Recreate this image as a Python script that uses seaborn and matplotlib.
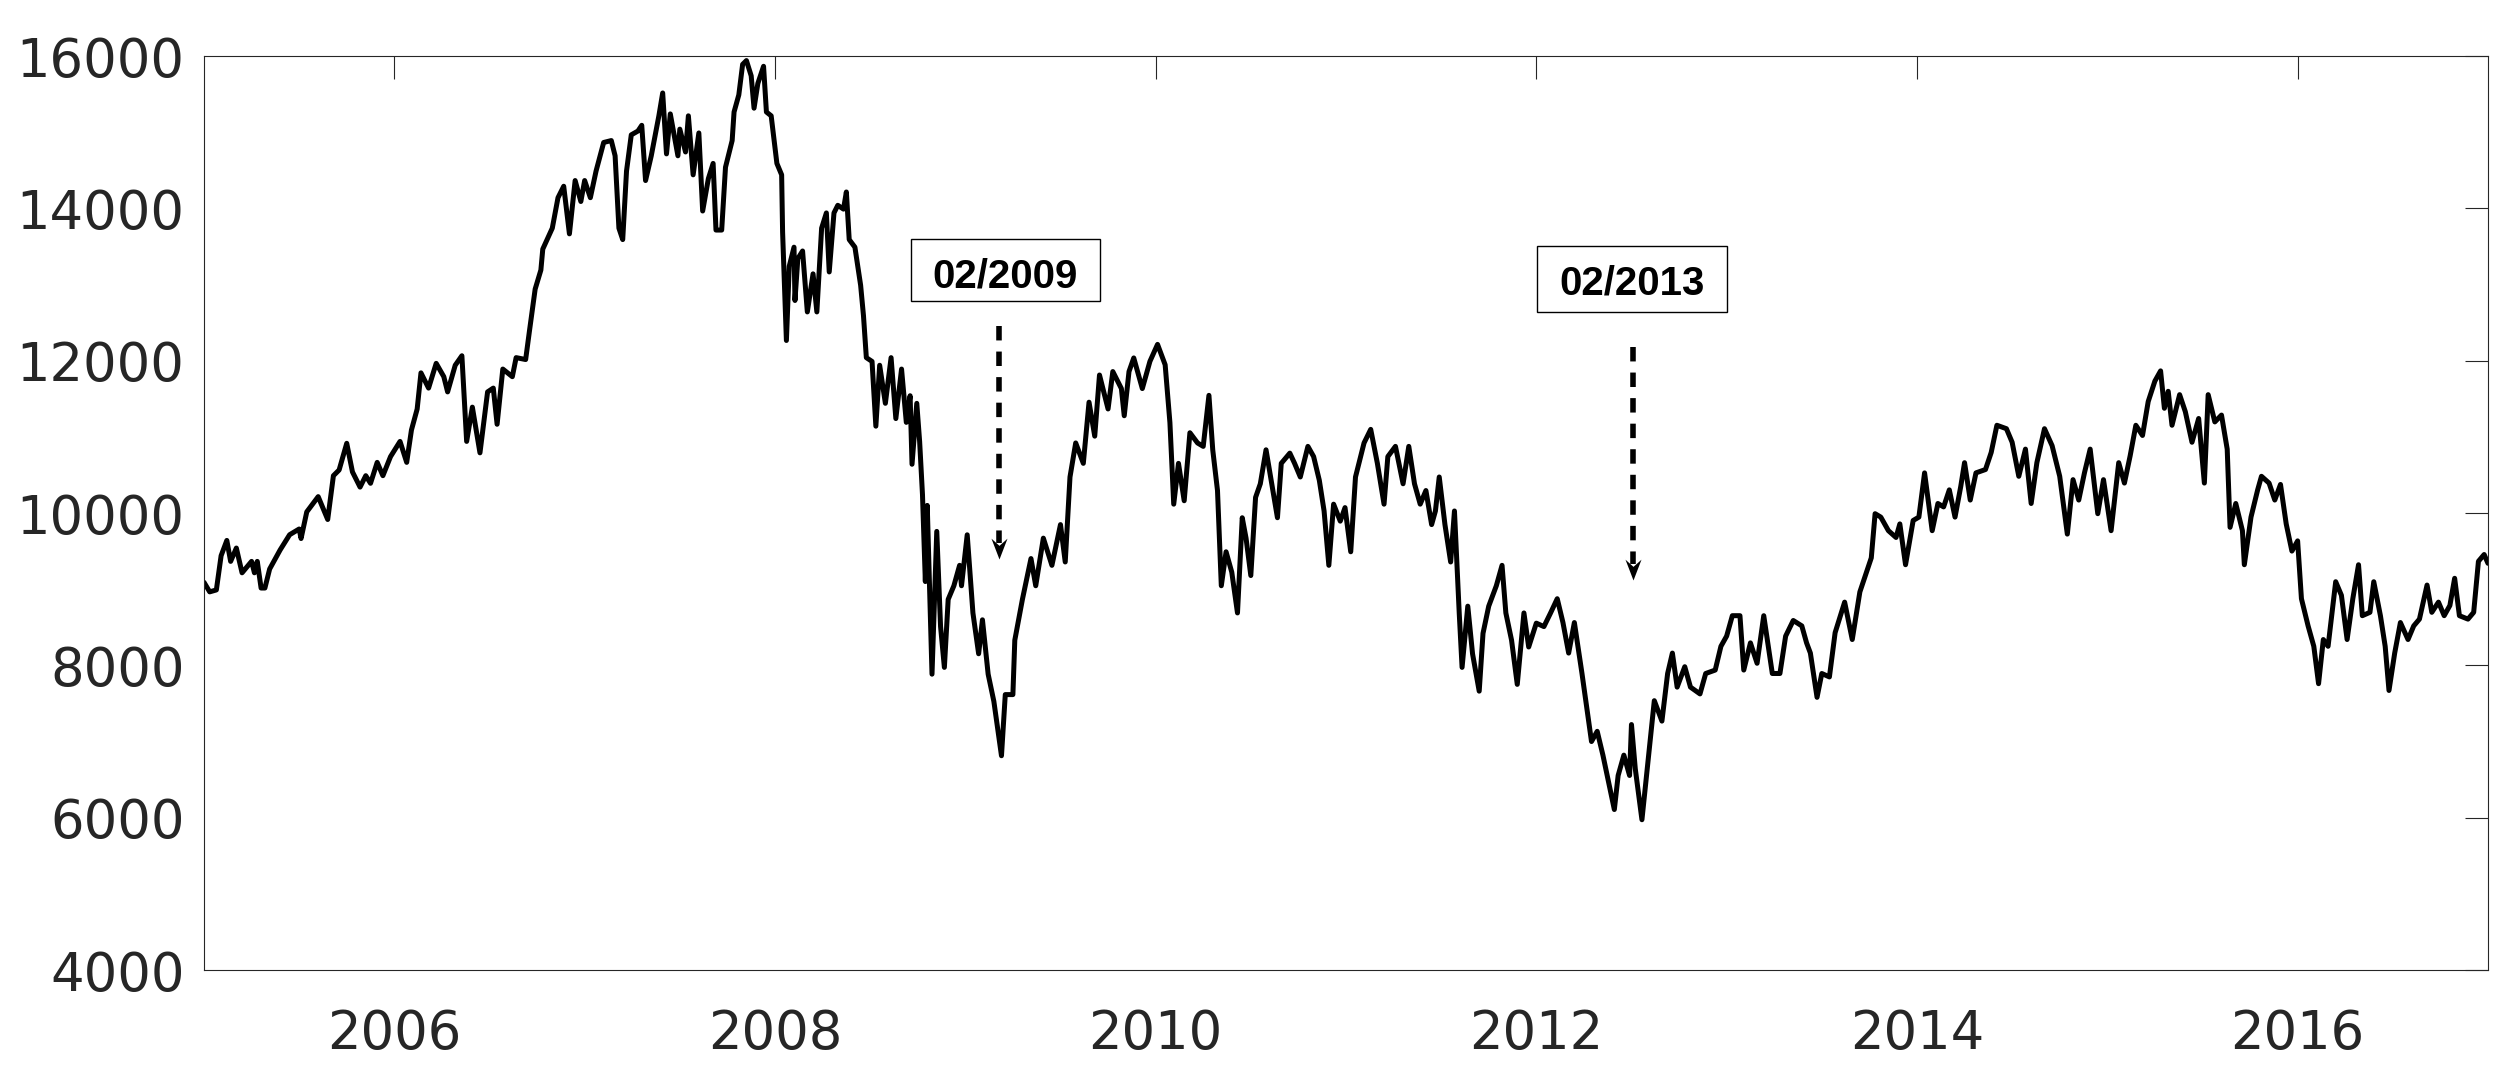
import numpy as np
import pandas as pd
import matplotlib
matplotlib.use("Agg")
import matplotlib.pyplot as plt
from matplotlib.path import Path
from matplotlib.patches import Rectangle
import seaborn as sns

# ---------------- data ----------------
years = [
    2005.00, 2005.03, 2005.065, 2005.09, 2005.12, 2005.14, 2005.17, 2005.20, 2005.25, 2005.265,
    2005.28, 2005.30, 2005.32, 2005.345, 2005.40, 2005.45, 2005.50, 2005.51, 2005.54, 2005.60,
    2005.65, 2005.68, 2005.71, 2005.75, 2005.78, 2005.82, 2005.85, 2005.875, 2005.91, 2005.94,
    2005.98, 2006.03, 2006.065, 2006.09, 2006.12, 2006.14, 2006.18, 2006.22, 2006.26, 2006.28,
    2006.32, 2006.355, 2006.38, 2006.41, 2006.45, 2006.49, 2006.52, 2006.54, 2006.57, 2006.62,
    2006.64, 2006.69, 2006.71, 2006.74, 2006.77, 2006.78, 2006.83, 2006.86, 2006.89, 2006.92,
    2006.95, 2006.98,
    2007.00, 2007.03, 2007.06, 2007.10, 2007.14, 2007.16, 2007.18, 2007.20, 2007.22, 2007.245,
    2007.28, 2007.30, 2007.32, 2007.35, 2007.39, 2007.41, 2007.43, 2007.45, 2007.49, 2007.50,
    2007.53, 2007.545, 2007.57, 2007.60, 2007.62, 2007.65, 2007.675, 2007.69, 2007.72, 2007.74,
    2007.775, 2007.785, 2007.81, 2007.83, 2007.85, 2007.875, 2007.89, 2007.91, 2007.94, 2007.955,
    2007.98, 2008.01, 2008.035, 2008.04, 2008.06, 2008.075, 2008.10, 2008.105, 2008.12, 2008.145,
    2008.17, 2008.20, 2008.22, 2008.245, 2008.27, 2008.285, 2008.31, 2008.33, 2008.36, 2008.375,
    2008.39, 2008.42, 2008.45, 2008.465, 2008.48, 2008.51, 2008.53, 2008.55, 2008.58, 2008.61,
    2008.635, 2008.665, 2008.69, 2008.71, 2008.72, 2008.745, 2008.76, 2008.775, 2008.79, 2008.80,
    2008.825, 2008.85, 2008.87, 2008.89, 2008.91, 2008.94, 2008.97, 2008.98, 2009.01, 2009.04,
    2009.07, 2009.09, 2009.12, 2009.15, 2009.19, 2009.21, 2009.25, 2009.26, 2009.30, 2009.345,
    2009.37, 2009.41, 2009.455, 2009.50, 2009.525, 2009.55, 2009.58, 2009.62, 2009.65, 2009.68,
    2009.705, 2009.75, 2009.775, 2009.82, 2009.835, 2009.86, 2009.885, 2009.93, 2009.97, 2010.01,
    2010.05, 2010.075, 2010.095, 2010.12, 2010.15, 2010.18, 2010.22, 2010.25, 2010.28, 2010.30,
    2010.325, 2010.345, 2010.37, 2010.40, 2010.43, 2010.455, 2010.475, 2010.50, 2010.525, 2010.55,
    2010.58, 2010.61, 2010.64, 2010.66, 2010.705, 2010.73, 2010.76, 2010.80, 2010.83, 2010.86,
    2010.885, 2010.91, 2010.935, 2010.97, 2010.995, 2011.025, 2011.05, 2011.095, 2011.13, 2011.165,
    2011.20, 2011.22, 2011.26, 2011.30, 2011.33, 2011.36, 2011.39, 2011.42, 2011.45, 2011.47,
    2011.49, 2011.52, 2011.55, 2011.57, 2011.595, 2011.61, 2011.64, 2011.665, 2011.70, 2011.72,
    2011.75, 2011.79, 2011.82, 2011.84, 2011.87, 2011.90, 2011.935, 2011.96, 2012.00, 2012.04,
    2012.075,
    2012.11, 2012.14, 2012.17, 2012.20, 2012.24, 2012.265, 2012.29, 2012.32, 2012.35, 2012.38,
    2012.41, 2012.43, 2012.46, 2012.49, 2012.50, 2012.52, 2012.555, 2012.59, 2012.62, 2012.66,
    2012.69, 2012.715, 2012.74, 2012.78, 2012.81, 2012.86, 2012.89, 2012.94, 2012.97, 2013.00,
    2013.03, 2013.07, 2013.09, 2013.125, 2013.16, 2013.195, 2013.24, 2013.28, 2013.31, 2013.35,
    2013.395, 2013.42, 2013.44, 2013.475, 2013.50, 2013.54, 2013.57, 2013.62, 2013.66, 2013.70,
    2013.73, 2013.76, 2013.78, 2013.81, 2013.85, 2013.89, 2013.91, 2013.94, 2013.98, 2014.01,
    2014.04, 2014.08, 2014.11, 2014.14, 2014.17, 2014.20, 2014.23, 2014.25, 2014.28, 2014.31,
    2014.36, 2014.39, 2014.42, 2014.47, 2014.50, 2014.535, 2014.57, 2014.60, 2014.63, 2014.67,
    2014.71, 2014.75, 2014.79, 2014.82, 2014.85, 2014.88, 2014.91, 2014.95, 2014.98, 2015.02,
    2015.06, 2015.09, 2015.12, 2015.15, 2015.185, 2015.215, 2015.25, 2015.28, 2015.30, 2015.32,
    2015.34, 2015.38, 2015.41, 2015.445, 2015.48, 2015.51, 2015.53, 2015.565, 2015.60, 2015.63,
    2015.645, 2015.675, 2015.71, 2015.72, 2015.755, 2015.79, 2015.81, 2015.85, 2015.88, 2015.91,
    2015.94, 2015.97, 2016.00, 2016.02, 2016.055, 2016.085, 2016.11, 2016.135, 2016.16, 2016.20,
    2016.23, 2016.26, 2016.29, 2016.32, 2016.34, 2016.38, 2016.40, 2016.435, 2016.46, 2016.48,
    2016.51, 2016.54, 2016.58, 2016.61, 2016.64, 2016.68, 2016.705, 2016.74, 2016.77, 2016.80,
    2016.825, 2016.85, 2016.895, 2016.925, 2016.95, 2016.98, 2017.00,
]
values = [
    9090, 8965, 8990, 9440, 9640, 9365, 9540, 9215, 9365, 9215,
    9365, 9015, 9015, 9265, 9515, 9715, 9790, 9665, 10015, 10215,
    9915, 10490, 10565, 10915, 10540, 10340, 10490, 10390, 10665, 10490,
    10740, 10940, 10665, 11090, 11365, 11840, 11640, 11965, 11790, 11590,
    11940, 12065, 10940, 11390, 10790, 11590, 11640, 11165, 11890, 11790,
    12040, 12015, 12390, 12940, 13190, 13465, 13740, 14140, 14290, 13665,
    14365, 14090,
    14365, 14140, 14490, 14865, 14890, 14690, 13740, 13590, 14490, 14965,
    15015, 15090, 14365, 14690, 15215, 15515, 14715, 15240, 14690, 15040,
    14740, 15215, 14440, 14990, 13965, 14390, 14590, 13715, 13715, 14540,
    14890, 15265, 15490, 15890, 15940, 15740, 15315, 15640, 15865, 15265,
    15215, 14590, 14440, 13690, 12265, 13240, 13490, 12790, 13340, 13440,
    12640, 13140, 12640, 13740, 13940, 13165, 13940, 14040, 13990, 14215,
    13590, 13490, 12990, 12590, 12040, 11990, 11140, 11940, 11440, 12040,
    11240, 11890, 11190, 11540, 10640, 11440, 10940, 10240, 9100, 10100,
    7884, 9759, 8509, 7973, 8866, 9045, 9313, 9045, 9714, 8688,
    8152, 8598, 7884, 7527, 6813, 7616, 7616, 8330, 8866, 9402,
    9045, 9670, 9313, 9848, 9357, 10473, 10920, 10652, 11455, 11009,
    11812, 11366, 11857, 11634, 11277, 11857, 12036, 11634, 11991, 12214,
    11946, 11187, 10116, 10652, 10161, 11054, 10920, 10875, 11545, 10830,
    10295, 9045, 9491, 9223, 8688, 9938, 9670, 9179, 10205, 10384,
    10830, 10384, 9938, 10652, 10786, 10652, 10473, 10875, 10741, 10429,
    10027, 9313, 10116, 9893, 10071, 9491, 10473, 10920, 11098, 10652,
    10116, 10741, 10875, 10384, 10875, 10384, 10116, 10295, 9848, 10027,
    10473, 9848, 9357, 10027, 8688, 7973, 8777, 8152, 7661, 8420,
    8777, 9045, 9313, 8688, 8330, 7750, 8688, 8241, 8554, 8509,
    8688,
    8875, 8562, 8161, 8562, 7893, 7446, 7000, 7134, 6821, 6464,
    6107, 6554, 6821, 6554, 7223, 6643, 5973, 6821, 7536, 7268,
    7893, 8161, 7714, 7982, 7714, 7625, 7893, 7938, 8250, 8384,
    8652, 8652, 7938, 8295, 8027, 8652, 7893, 7893, 8384, 8589,
    8518, 8295, 8161, 7580, 7893, 7848, 8429, 8830, 8339, 8964,
    9188, 9411, 9991, 9946, 9768, 9679, 9857, 9321, 9902, 9946,
    10527, 9768, 10125, 10080, 10304, 9946, 10348, 10661, 10170, 10527,
    10571, 10795, 11152, 11107, 10929, 10482, 10839, 10125, 10661, 11107,
    10884, 10482, 9723, 10438, 10170, 10527, 10839, 9991, 10438, 9768,
    10661, 10393, 10750, 11152, 11018, 11464, 11732, 11866, 11375, 11598,
    11152, 11554, 11330, 10929, 11241, 10393, 11554, 11196, 11286, 10839,
    9812, 10125, 9768, 9321, 9946, 10304, 10482, 10393, 10170, 10375,
    9857, 9500, 9634, 8875, 8518, 8250, 7759, 8339, 8250, 9098,
    8920, 8339, 8875, 9321, 8652, 8696, 9098, 8652, 8250, 7670,
    8161, 8562, 8339, 8518, 8607, 9054, 8696, 8830, 8652, 8786,
    9143, 8652, 8607, 8696, 9366, 9455, 9340,
]

xtick_years = [2006, 2008, 2010, 2012, 2014, 2016]
ytick_values = [4000, 6000, 8000, 10000, 12000, 14000, 16000]

# annotations: label, arrow x, arrow top / tip, box extent, text y
annot_labels = ["02/2009", "02/2013"]
arrow_x = [2009.175, 2012.508]
arrow_top = [12455, 12180]
arrow_tip = [9400, 9125]
box_x0 = [2008.714, 2012.003]
box_x1 = [2009.706, 2013.000]
box_y0 = [12777, 12643]
box_y1 = [13598, 13500]
text_y = [13110, 13010]

# ---------------- plot ----------------
sns.set_theme(style="white")
plt.rcParams["font.family"] = ["DejaVu Sans"]

fig = plt.figure(figsize=(25.06, 10.69), dpi=100)
ax = fig.add_axes([0.0814, 0.0926, 0.9114, 0.855])

df = pd.DataFrame({"year": years, "value": values})
sns.lineplot(data=df, x="year", y="value", color="black", linewidth=3.6,
             ax=ax, sort=False, estimator=None)

ax.set_xlim(2005, 2017)
ax.set_ylim(4000, 16000)
ax.set_xticks(xtick_years)
ax.set_xticklabels([str(y) for y in xtick_years])
ax.set_yticks(ytick_values)
ax.set_yticklabels([str(v) for v in ytick_values])
ax.set_xlabel("")
ax.set_ylabel("")

ax.tick_params(direction="in", length=16.5, width=0.8, top=True, right=True,
               labeltop=False, labelright=False, labelsize=38,
               labelcolor="#262626", color="#262626")
ax.tick_params(axis="x", pad=27)
ax.tick_params(axis="y", pad=14)
for s in ax.spines.values():
    s.set_visible(True)
    s.set_linewidth(0.8)
    s.set_color("#262626")

# arrow head marker (pointing down, notched)
head = Path([(0, 0), (-0.5, 1.3), (0, 0.85), (0.5, 1.3), (0, 0)],
            [Path.MOVETO, Path.LINETO, Path.LINETO, Path.LINETO, Path.CLOSEPOLY])

for i, lab in enumerate(annot_labels):
    rect = Rectangle((box_x0[i], box_y0[i]), box_x1[i] - box_x0[i], box_y1[i] - box_y0[i],
                     facecolor="white", edgecolor="black", linewidth=1.0, zorder=4)
    ax.add_patch(rect)
    ax.text((box_x0[i] + box_x1[i]) / 2, text_y[i], lab, ha="center", va="center",
            fontsize=29, fontweight="bold", family=["Liberation Sans", "DejaVu Sans"],
            color="black", zorder=5)
    notch = arrow_tip[i] + 200
    ax.plot([arrow_x[i], arrow_x[i]], [arrow_top[i], notch], color="black",
            linewidth=4.0, dashes=(2.6, 2.0), solid_capstyle="butt",
            dash_capstyle="butt", zorder=4)
    ax.plot([arrow_x[i]], [arrow_tip[i]], marker=head, markersize=30,
            color="black", markeredgewidth=0, linestyle="none", zorder=4)

fig.savefig("out.png", dpi=100)
